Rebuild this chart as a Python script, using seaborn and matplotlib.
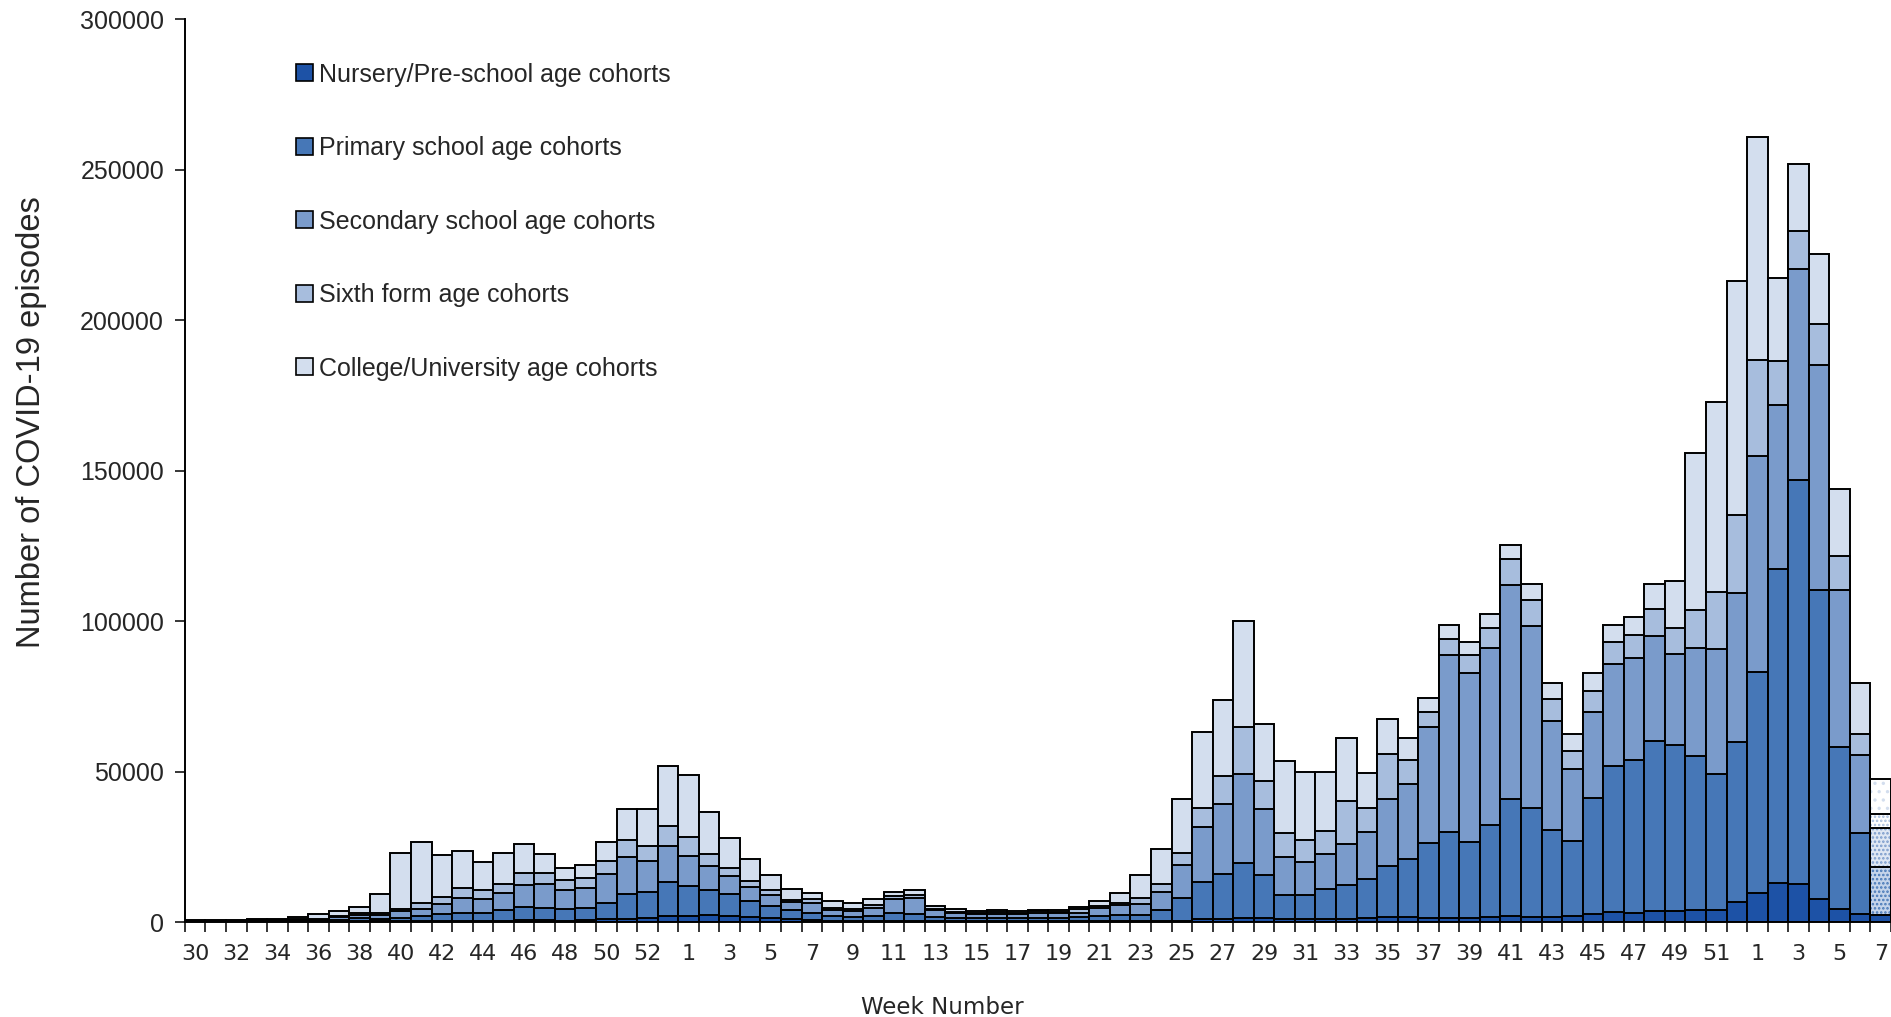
import numpy as np
import pandas as pd
import matplotlib
matplotlib.use("Agg")
import matplotlib.pyplot as plt
import seaborn as sns
from matplotlib.patches import Patch

# week numbers: 2020 wk30-53, 2021 wk1-52, 2022 wk1-7
weeks = list(range(30, 54)) + list(range(1, 53)) + list(range(1, 8))

cohorts = ["Nursery/Pre-school age cohorts", "Primary school age cohorts",
           "Secondary school age cohorts", "Sixth form age cohorts",
           "College/University age cohorts"]
colors = ["#1d52a6", "#4677b7", "#7a9bcb", "#a7bddd", "#d3deee"]

nursery = [50, 50, 50, 50, 50, 100, 100, 150, 200, 200, 300, 400, 400, 400, 500, 500, 600, 600, 500, 600,
           900, 1100, 1300, 2100,
           2100, 2300, 2100, 1600, 1300, 1000, 600, 400, 400, 400, 500, 400, 300, 300, 300, 300, 300, 300, 300, 300,
           400, 400, 300, 300, 500, 900, 1100, 1400, 1200, 1000, 900, 1000, 1100, 1300, 1600, 1500, 1400, 1400,
           1400, 1600, 1900, 1600, 1600, 1900, 2500, 3200, 3100, 3500, 3700, 4100, 4100, 6800,
           9700, 12800, 12600, 7600, 4300, 2700, 2300]
primary = [150, 150, 150, 200, 200, 300, 400, 650, 1100, 900, 1100, 1500, 2300, 2700, 2600, 3600, 4500, 4200, 3700, 3900,
           5500, 8100, 8600, 11100,
           9900, 8500, 7300, 5500, 4100, 3000, 2400, 1600, 1400, 1700, 2600, 2100, 1400, 1000, 1000, 1000, 900, 1100, 1100, 1300,
           1500, 1800, 2000, 3600, 7600, 12300, 14800, 18200, 14400, 7900, 8000, 10000, 11100, 12900, 16900, 19400, 24800, 28500,
           25300, 30700, 39000, 36400, 28900, 25100, 38700, 48600, 50800, 56500, 55000, 51100, 45100, 53100,
           73300, 104600, 134300, 102600, 54000, 26800, 16000]
secondary = [200, 150, 200, 250, 250, 300, 300, 900, 1100, 1200, 2300, 2500, 3400, 5000, 4700, 5700, 7300, 7900, 6600, 6900,
             9600, 12400, 10400, 12100,
             10100, 7800, 5800, 4700, 3700, 2700, 3300, 1900, 1900, 2400, 4500, 5600, 2300, 1600, 1500, 1500, 1600, 1700, 1600, 1500,
             2600, 3600, 3800, 6100, 11000, 18500, 23200, 29700, 21800, 12800, 10900, 11500, 13700, 15700, 22300, 25100, 38700, 58700,
             56100, 58800, 71000, 60400, 36400, 23700, 28500, 33800, 33700, 35100, 30300, 35700, 41600, 49300,
             71900, 54400, 70000, 75000, 51900, 25900, 12800]
sixth_form = [100, 100, 100, 100, 100, 300, 300, 400, 600, 800, 600, 1900, 2100, 3300, 2700, 2900, 3900, 3600, 3100, 3200,
              4300, 5800, 5000, 6600,
              6100, 4000, 2800, 1900, 1400, 700, 1200, 800, 700, 1300, 900, 800, 400, 400, 300, 400, 300, 400, 400, 1200,
              900, 500, 1800, 2500, 4000, 6300, 9300, 15600, 9500, 8000, 7600, 7800, 14300, 7900, 15100, 7900, 4900, 5600,
              5900, 6600, 8800, 8700, 7100, 6300, 7100, 7300, 7900, 9000, 8700, 12700, 18800, 26200,
              31800, 14600, 12600, 13400, 11600, 7200, 4900]
college = [300, 250, 300, 500, 500, 700, 1700, 1700, 2100, 6300, 18700, 20300, 14200, 12100, 9400, 10100, 9700, 6300, 4100, 4400,
           6300, 10200, 12300, 20100,
           20700, 14100, 10000, 7100, 5200, 3600, 2300, 2400, 1800, 2000, 1500, 1600, 800, 900, 600, 700, 400, 600, 500, 700,
           1700, 3300, 7600, 11900, 17700, 25300, 25500, 35100, 19000, 23700, 22300, 19400, 21000, 11600, 11600, 7100, 4600, 4500,
           4200, 4800, 4600, 5100, 5300, 5500, 5800, 5700, 5900, 8200, 15600, 52200, 63300, 77600,
           74300, 27700, 22500, 23300, 22000, 16700, 11400]

series = [nursery, primary, secondary, sixth_form, college]
keys = [f"{i:02d}-{w}" for i, w in enumerate(weeks)]
df = pd.DataFrame({c: v for c, v in zip(cohorts, series)})
df["key"] = keys
cum = df[cohorts].cumsum(axis=1)

sns.set_style("ticks")
plt.rcParams["font.family"] = ["Liberation Sans", "DejaVu Sans"]
plt.rcParams["hatch.linewidth"] = 1.2

fig = plt.figure(figsize=(18.91, 10.17), dpi=100)
ax = fig.add_axes([0.0978, 0.0934, 0.9022, 0.8876])

hatches = ["", "....", "....", "....", ".."]
last_face = ["#1d52a6", "#c5d4ea", "#dfe7f3", "white", "white"]

# draw cumulative layers from the top down so each covers the one below
for i in range(len(cohorts) - 1, -1, -1):
    sns.barplot(x=keys, y=cum[cohorts[i]].values, order=keys, color=colors[i], saturation=1,
                width=1, edgecolor="black", linewidth=1.4, errorbar=None, ax=ax)
    last = ax.patches[-1]
    if hatches[i]:
        last.set_facecolor(last_face[i])
        last.set_edgecolor(colors[i])
        last.set_hatch(hatches[i])
        last.set_linewidth(0)

# outline the partial last week
ax.bar([len(keys) - 1] * len(cohorts), cum.iloc[-1].values, width=1, fill=False,
       edgecolor="black", linewidth=1.4)

ax.set_xlim(-0.5, len(keys) - 0.5)
ax.set_ylim(0, 300000)
ax.set_yticks(np.arange(0, 300001, 50000))
ax.set_yticklabels([str(v) for v in range(0, 300001, 50000)], fontsize=18)

ax.set_xticks(range(0, len(keys), 2))
ax.set_xticklabels([str(w) for w in weeks[::2]], fontsize=16, family="DejaVu Sans")
ax.set_xticks(np.arange(-0.5, len(keys), 1), minor=True)
ax.tick_params(axis="x", which="major", length=0, pad=16)
ax.tick_params(axis="x", which="minor", length=7, width=1.3, direction="out")
ax.tick_params(axis="y", length=7, width=1.3, pad=8)

for s in ["top", "right"]:
    ax.spines[s].set_visible(False)
for s in ["left", "bottom"]:
    ax.spines[s].set_linewidth(1.4)
    ax.spines[s].set_color("black")

ax.set_xlabel("Week Number", fontsize=16.5, family="DejaVu Sans")
ax.xaxis.set_label_coords(0.444, -0.082)
ax.set_ylabel("Number of COVID-19 episodes", fontsize=23.5)
ax.yaxis.set_label_coords(-0.081, 0.554)

handles = [Patch(facecolor=c, edgecolor="black", linewidth=1.2) for c in colors]
ax.legend(handles, cohorts, loc="upper left", bbox_to_anchor=(0.052, 0.977), frameon=False,
          fontsize=18, handlelength=0.68, handleheight=0.68, handletextpad=0.25, labelspacing=1.98)

fig.savefig("out.png", dpi=100)
